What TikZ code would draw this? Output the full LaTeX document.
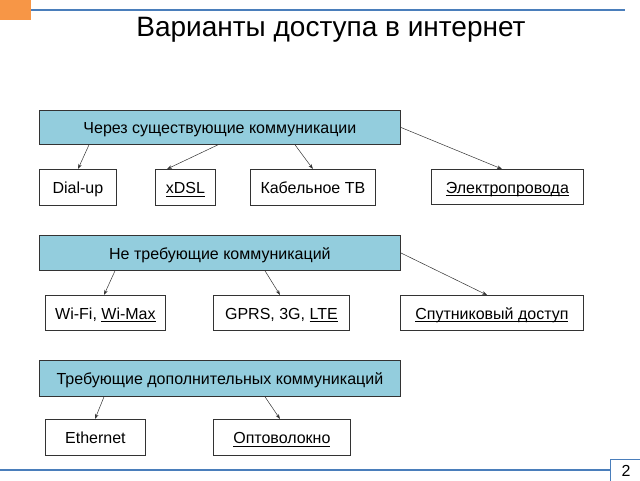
\documentclass[tikz,border=0pt]{standalone}
\usepackage{fontspec}
\setmainfont{Liberation Sans}
\usetikzlibrary{arrows.meta}
\definecolor{boxblue}{HTML}{93CDDD}
\definecolor{lineblue}{HTML}{4A7EBB}
\definecolor{accorange}{HTML}{F79646}
\definecolor{edge}{HTML}{333333}
\newcommand\ulx[1]{\setbox0=\hbox{#1}\rlap{\rule[-2.4pt]{\wd0}{0.8pt}}\box0}
\tikzset{
  parentbox/.style={draw=edge, fill=boxblue, line width=0.8pt, anchor=north west, inner sep=0pt, text height=13pt, text depth=0pt, font=\fontsize{16}{18}\selectfont},
  childbox/.style={draw=edge, fill=white, line width=0.8pt, anchor=north west, inner sep=0pt, text height=13pt, text depth=0pt, font=\fontsize{16}{18}\selectfont},
  arr/.style={draw=edge, line width=0.5pt, -{Stealth[length=5pt,width=3.5pt]}},
  deco/.style={draw=lineblue, line width=1.5pt}
}
\begin{document}
\begin{tikzpicture}[x=1pt,y=-1pt]
\useasboundingbox (0,0) rectangle (640,480);
% decorations
\fill[accorange] (0,0) rectangle (31,20);
\coordinate (tl) at (31,10);
\coordinate (tr) at (625,10);
\draw[deco] (tl) -- (tr);
\coordinate (bl) at (0,470);
\node[draw=lineblue, line width=1.2pt, fill=white, anchor=north west, minimum width=31pt, minimum height=22pt, inner sep=0pt, text height=12pt, text depth=0pt, font=\fontsize{16}{18}\selectfont] (pg) at (610,459) {2};
\draw[deco] (bl) -- (pg.west |- bl);
% title
\node[font=\fontsize{28}{32}\selectfont, anchor=base] (title) at (331,36) {Варианты доступа в интернет};
% group 1
\node[parentbox, minimum width=361pt, minimum height=34pt] (p1) at (39,110) {Через существующие коммуникации};
\node[childbox, minimum width=77pt, minimum height=36pt] (c11) at (39,169) {Dial-up};
\node[childbox, minimum width=60pt, minimum height=36pt] (c12) at (155,169) {\ulx{xDSL}};
\node[childbox, minimum width=125pt, minimum height=36pt] (c13) at (250,169) {Кабельное ТВ};
\node[childbox, minimum width=152pt, minimum height=35pt] (c14) at (431,169) {\ulx{Электропровода}};
\draw[arr] ([xshift=50pt]p1.south west) -- ([xshift=39pt]c11.north west);
\draw[arr] ([xshift=179pt]p1.south west) -- ([xshift=12pt]c12.north west);
\draw[arr] ([xshift=256pt]p1.south west) -- (c13.north);
\draw[arr] (p1.east) -- ([xshift=71pt]c14.north west);
% group 2
\node[parentbox, minimum width=361pt, minimum height=35pt] (p2) at (39,235) {Не требующие коммуникаций};
\node[childbox, minimum width=120pt, minimum height=35pt] (c21) at (45,295) {Wi-Fi, \ulx{Wi-Max}};
\node[childbox, minimum width=136pt, minimum height=35pt] (c22) at (213,295) {GPRS, 3G, \ulx{LTE}};
\node[childbox, minimum width=183pt, minimum height=35pt] (c23) at (400,295) {\ulx{Спутниковый доступ}};
\draw[arr] ([xshift=76pt]p2.south west) -- ([xshift=59pt]c21.north west);
\draw[arr] ([xshift=226pt]p2.south west) -- ([xshift=67pt]c22.north west);
\draw[arr] (p2.east) -- ([xshift=87pt]c23.north west);
% group 3
\node[parentbox, minimum width=361pt, minimum height=36pt] (p3) at (39,360) {Требующие дополнительных коммуникаций};
\node[childbox, minimum width=100pt, minimum height=36pt] (c31) at (45,419) {Ethernet};
\node[childbox, minimum width=137pt, minimum height=36pt] (c32) at (213,419) {\ulx{Оптоволокно}};
\draw[arr] ([xshift=65pt]p3.south west) -- ([xshift=50pt]c31.north west);
\draw[arr] ([xshift=226pt]p3.south west) -- ([xshift=67pt]c32.north west);
\end{tikzpicture}
\end{document}
